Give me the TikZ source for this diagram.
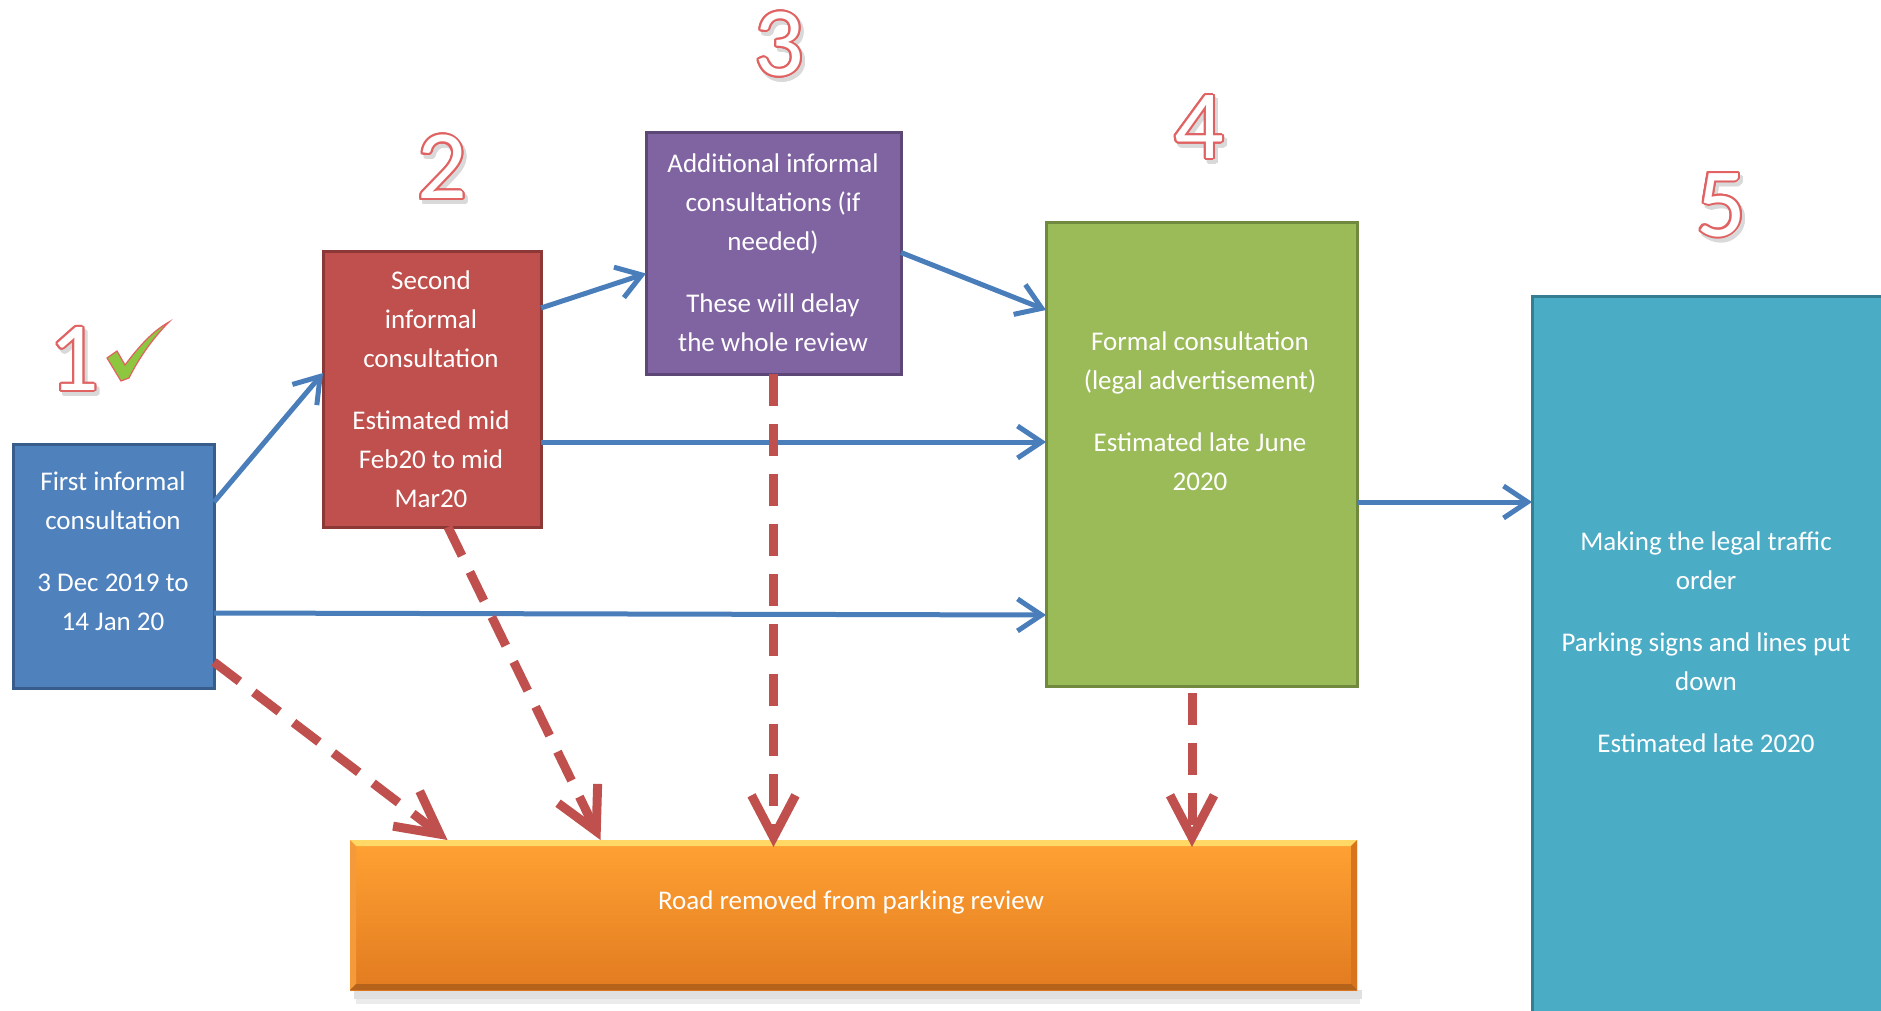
\documentclass[tikz,border=0pt]{standalone}
\usepackage{fontspec}
\setmainfont{Carlito}
\usepackage{contour}
\contourlength{2pt}
\usetikzlibrary{arrows.meta,calc}
\definecolor{boxAfill}{HTML}{4F81BD}\definecolor{boxAline}{HTML}{385D8A}
\definecolor{boxBfill}{HTML}{C0504D}\definecolor{boxBline}{HTML}{8C3836}
\definecolor{boxCfill}{HTML}{8064A2}\definecolor{boxCline}{HTML}{5C4776}
\definecolor{boxDfill}{HTML}{9BBB59}\definecolor{boxDline}{HTML}{71893F}
\definecolor{boxEfill}{HTML}{4BACC6}\definecolor{boxEline}{HTML}{357D91}
\definecolor{arrowblue}{HTML}{4A7EBB}
\definecolor{arrowred}{HTML}{C0504D}
\definecolor{numred}{HTML}{E06262}
\definecolor{checkgreen}{HTML}{8DC63F}
\definecolor{orgtop}{HTML}{FFA233}
\definecolor{orgmid}{HTML}{FB942A}
\definecolor{orgbot}{HTML}{E27B20}
\definecolor{orgbevtop}{HTML}{FFD866}
\definecolor{orgbevleft}{HTML}{F59A3A}
\definecolor{orgbevright}{HTML}{D9741E}
\definecolor{orgbevbot}{HTML}{B5621B}
\begin{document}
\begin{tikzpicture}[x=1pt,y=-1pt,
  boxst/.style={draw, line width=3pt, inner sep=0pt, outer sep=0pt},
  txt/.style={text=white, align=center, inner sep=0pt, font=\fontsize{27}{39}\selectfont},
  blarrow/.style={draw=arrowblue, line width=5pt, -{Straight Barb[length=24pt,width=32pt]}},
  rdarrow/.style={draw=arrowred, line width=9pt, dash pattern=on 32pt off 18pt, -{Straight Barb[length=42pt,width=44pt]}},
  numst/.style={inner sep=0pt, text=white, font=\fontsize{98}{98}\selectfont},
  numshadow/.style={inner sep=0pt, text=black!15, font=\fontsize{98}{98}\selectfont}]
\useasboundingbox[fill=white] (0,0) rectangle (1881,1011);

% boxes
\node[boxst, fill=boxAfill, draw=boxAline, minimum width=201pt, minimum height=244pt] (b1) at (113.5,566) {};
\node[boxst, fill=boxBfill, draw=boxBline, minimum width=218pt, minimum height=276pt] (b2) at (432,389) {};
\node[boxst, fill=boxCfill, draw=boxCline, minimum width=255pt, minimum height=241pt] (b3) at (773.5,253.5) {};
\node[boxst, fill=boxDfill, draw=boxDline, minimum width=311pt, minimum height=464pt] (b4) at (1201.5,454) {};
\node[boxst, fill=boxEfill, draw=boxEline, minimum width=368pt, minimum height=744pt] (b5) at (1716,668) {};

% orange box with bevel and shadow
\fill[black, opacity=0.12] (354,990) rectangle (1362,999);
\fill[black, opacity=0.08] (356,999) rectangle (1360,1004);
\node[inner sep=0pt, outer sep=0pt, minimum width=1007pt, minimum height=150pt,
      top color=orgtop, middle color=orgmid, bottom color=orgbot] (rr) at (853.5,915) {};
\fill[orgbevtop] (350,840) -- (1357,840) -- (1351,846) -- (356,846) -- cycle;
\fill[orgbevleft] (350,840) -- (356,846) -- (356,984) -- (350,990) -- cycle;
\fill[orgbevright] (1357,840) -- (1351,846) -- (1351,984) -- (1357,990) -- cycle;
\fill[orgbevbot] (350,990) -- (356,984) -- (1351,984) -- (1357,990) -- cycle;

% texts
\node[txt] (t1) at (113,551) {First informal\\consultation\\[23pt]3 Dec 2019 to\\14 Jan 20};
\node[txt] (t2) at (431,389) {Second\\informal\\consultation\\[23pt]Estimated mid\\Feb20 to mid\\Mar20};
\node[txt] (t3) at (773,253) {Additional informal\\consultations (if\\needed)\\[23pt]These will delay\\the whole review};
\node[txt] (t4) at (1200,411) {Formal consultation\\(legal advertisement)\\[23pt]Estimated late June\\2020};
\node[txt] (t5) at (1706,642) {Making the legal traffic\\order\\[23pt]Parking signs and lines put\\down\\[23pt]Estimated late 2020};
\node[txt] (t6) at (851,902) {Road removed from parking review};

% blue arrows
\draw[blarrow] ([yshift=64pt]b1.east) -- ([yshift=16pt]b2.west);
\draw[blarrow] ([yshift=-47pt]b1.east) -- ([yshift=-161pt]b4.west);
\draw[blarrow] ([yshift=-53pt]b2.east) -- ([yshift=12pt]b4.west);
\draw[blarrow] ([yshift=81pt]b2.east) -- ([yshift=-20pt]b3.west);
\draw[blarrow] ([yshift=1pt]b3.east) -- ([yshift=144pt]b4.west);
\draw[blarrow] ([yshift=-48pt]b4.east) -- ([yshift=166pt]b5.west);

% red dashed arrows
\draw[rdarrow] ([yshift=-96pt]b1.east) -- ([xshift=-406pt]rr.north);
\draw[rdarrow] ([xshift=16pt]b2.south) -- ([xshift=-253pt]rr.north);
\draw[rdarrow] (b3.south) -- ([xshift=-80pt,yshift=-7pt]rr.north);
\draw[rdarrow] ([xshift=-9.5pt,yshift=-7pt]b4.south) -- ([xshift=338.5pt,yshift=-7pt]rr.north);

% step numbers
\node[numshadow] at (77,364) {\contour{black!15}{1}};
\node[numst] (n1) at (74,360) {\contour{numred}{1}};
\node[numshadow] at (445,172) {\contour{black!15}{2}};
\node[numst] (n2) at (442,168) {\contour{numred}{2}};
\node[numshadow] at (782,49) {\contour{black!15}{3}};
\node[numst] (n3) at (779,45) {\contour{numred}{3}};
\node[numshadow] at (1202,132) {\contour{black!15}{4}};
\node[numst] (n4) at (1199,128) {\contour{numred}{4}};
\node[numshadow] at (1724,210) {\contour{black!15}{5}};
\node[numst] (n5) at (1721,206) {\contour{numred}{5}};

% check mark
\filldraw[fill=checkgreen, draw=numred, line width=1.2pt]
  (107,358) -- (117,351) -- (125,365)
  .. controls (140,345) and (153,331) .. (169,322)
  .. controls (153,338) and (139,358) .. (129,378)
  -- (121,381) -- cycle;
\end{tikzpicture}
\end{document}
